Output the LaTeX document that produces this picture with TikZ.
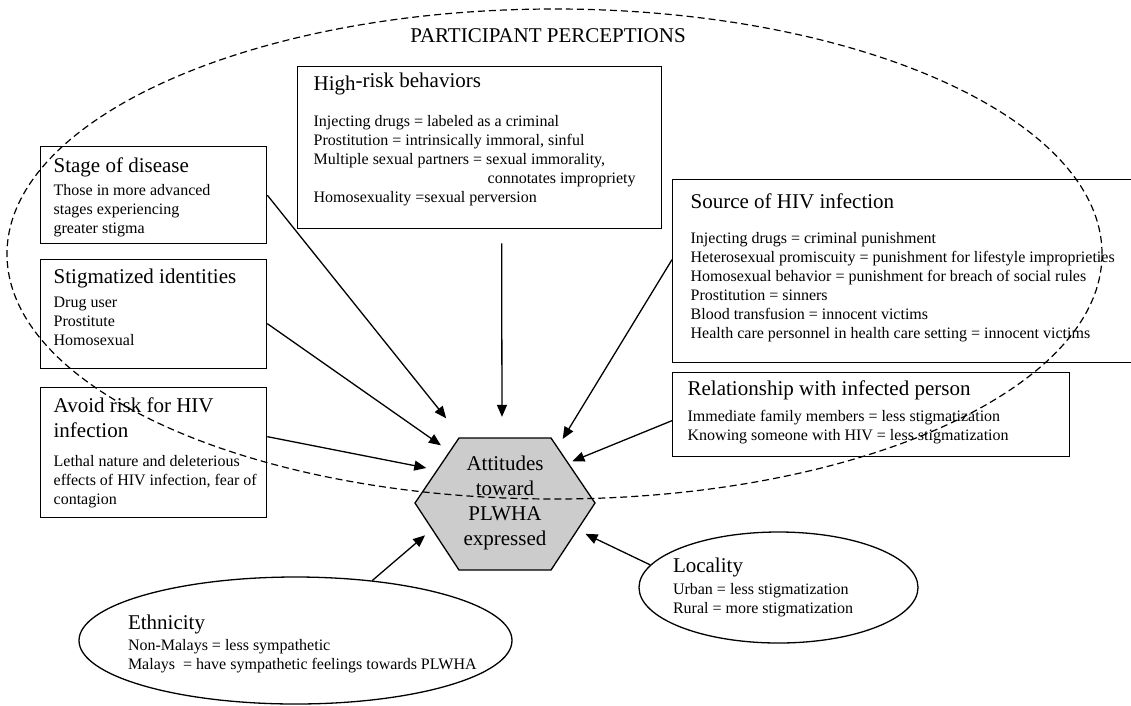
\documentclass[tikz,border=0pt]{standalone}
\usepackage{fontspec}
\setmainfont{Liberation Serif}
\usetikzlibrary{arrows.meta,shapes.geometric}
\newcommand{\headfont}{\fontsize{21}{25}\selectfont}
\newcommand{\bodyfont}{\fontsize{16}{19}\selectfont}
% framed box text: width, height, top skip, heading, gap, lines
\newcommand{\boxtext}[6]{\parbox[t][#2][t]{#1}{%
  \vspace*{#3}\headfont\strut#4\strut\par
  \vspace{#5}\bodyfont\begin{tabular}[t]{@{}l@{}}#6\end{tabular}}}
% oval text: width, first row height, heading, gap, lines
\newcommand{\ovaltext}[5]{\bodyfont\makebox[#1][l]{\begin{tabular}{@{}l@{}}\rule{0pt}{#2}{\headfont #3}\\[#4]#5\end{tabular}}}
\tikzstyle{frame}=[draw,line width=1.3pt,anchor=north west,inner xsep=13pt,inner ysep=0pt]
\tikzstyle{oval}=[draw,ellipse,line width=1.3pt,inner xsep=-40pt,inner ysep=0pt]
\tikzstyle{hexa}=[draw,line width=1.3pt,fill=black!20]
\tikzstyle{target}=[circle,minimum size=172pt,inner sep=0pt,align=center,font=\headfont]
\tikzstyle{region}=[draw,line width=1.2pt,dash pattern=on 7pt off 4pt]
\tikzstyle{link}=[line width=1.3pt,-{Triangle[length=12pt,width=10pt]}]

\begin{document}
\begin{tikzpicture}[x=1pt,y=-1pt]
    \useasboundingbox (0,0) rectangle (1131,705);
    % attitudes
    \draw[hexa] (415,503) -- (459,438) -- (551,438) -- (595,503)
      -- (551,570) -- (459,570) -- cycle;
    \node [target] (att) at (505,503) {Attitudes\\toward\\PLWHA\\expressed};
    % perceptions
    \draw[region] (554.5,254) ellipse [x radius=547.5pt, y radius=245pt];
    \node [font=\headfont] (title) at (548,36) {PARTICIPANT PERCEPTIONS};
    \node [frame] (stage) at (40,146) {\boxtext{200pt}{97pt}{8.5pt}
      {Stage of disease}{1.2pt}
      {Those in more advanced\\stages experiencing\\greater stigma}};
    \node [frame] (stig) at (40,259) {\boxtext{200pt}{109pt}{6.5pt}
      {Stigmatized identities}{2.2pt}
      {Drug user\\Prostitute\\Homosexual}};
    \node [frame] (avoid) at (40,387) {\boxtext{200pt}{130pt}{7.5pt}
      {Avoid risk for HIV\\infection}{7.2pt}
      {Lethal nature and deleterious\\effects of HIV infection, fear of\\contagion}};
    \node [frame,inner xsep=16pt] (high) at (297,66) {\boxtext{332pt}{162pt}{3.5pt}
      {\raisebox{-3pt}{High}-risk behaviors}{17.2pt}
      {Injecting drugs = labeled as a criminal\\
       Prostitution = intrinsically immoral, sinful\\
       Multiple sexual partners = sexual immorality,\\
       \hspace*{174pt}connotates impropriety\\
       Homosexuality =sexual perversion}};
    \node [frame,inner xsep=18pt] (src) at (672,179) {\boxtext{440pt}{183pt}{11.5pt}
      {Source of HIV infection}{13.2pt}
      {Injecting drugs = criminal punishment\\
       Heterosexual promiscuity = punishment for lifestyle improprieties\\
       Homosexual behavior = punishment for breach of social rules\\
       Prostitution = sinners\\
       Blood transfusion = innocent victims\\
       Health care personnel in health care setting = innocent victims}};
    \node [frame,inner xsep=15pt] (rel) at (672,372) {\boxtext{367pt}{84pt}{5.5pt}
      {Relationship with infected person}{4.2pt}
      {Immediate family members = less stigmatization\\
       Knowing someone with HIV = less stigmatization}};
    % outside
    \node [oval,minimum width=433pt,minimum height=127pt] (eth) at (295.5,640.5)
      {\ovaltext{335pt}{24pt}{Ethnicity}{2pt}
      {Non-Malays = less sympathetic\\Malays~ = have sympathetic feelings towards PLWHA}};
    \node [oval,minimum width=279pt,minimum height=111pt] (loc) at (778.5,587.5)
      {\ovaltext{211pt}{16pt}{Locality}{3pt}
      {Urban = less stigmatization\\Rural = more stigmatization}};
    % influences
    \draw[link,shorten >=17pt] (stage.east) -- (att.124);
    \draw[link] ([yshift=-9.5pt]stig.east) -- (att.138);
    \draw[link] ([yshift=16pt]avoid.east) -- (att.156);
    \draw[link] ([xshift=22pt,yshift=-14pt]high.south) -- (att.92);
    \draw[link] ([yshift=11.5pt]src.west) -- (att.48);
    \draw[link,shorten >=-7pt] ([yshift=-6pt]rel.west) -- (att.31);
    \draw[link] (loc.170) -- (att.-21);
    \draw[link] (eth.38) -- (att.202);
\end{tikzpicture}
\end{document}
